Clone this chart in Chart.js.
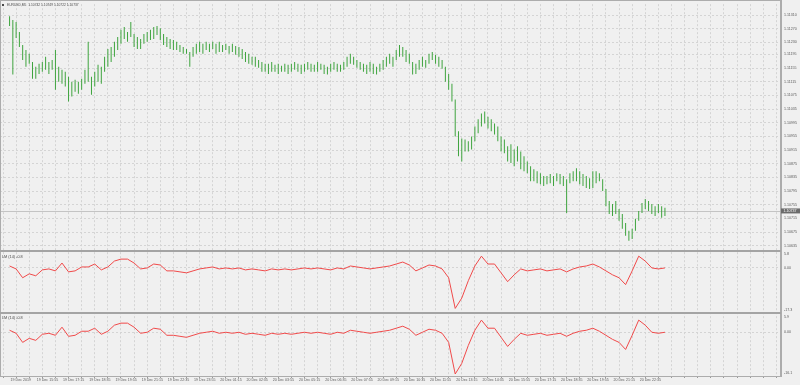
<!DOCTYPE html>
<html><head><meta charset="utf-8">
<script src="https://cdn.jsdelivr.net/npm/chart.js@4.4.1/dist/chart.umd.min.js"></script>
<style>html,body{margin:0;padding:0;background:#f0f0f0;}canvas{display:block;}</style>
</head><body>
<canvas id="c" width="800" height="385"></canvas>
<script>
// ---------- data ----------
const symbolTitle = "EURUSD,M5";
const quoteTexts = ["1.10742", "1.10749", "1.10722", "1.10737"];
const lastClose = 1.10737;
const lmTitle1 = "LM (14) -0.8";
const lmTitle2 = "LM (14) -0.8";

const timeLabels = ["19 Dec 2019","19 Dec 15:55","19 Dec 17:15","19 Dec 18:35","19 Dec 19:55","19 Dec 21:15","19 Dec 22:35","19 Dec 23:55","20 Dec 01:15","20 Dec 02:35","20 Dec 03:55","20 Dec 05:15","20 Dec 06:35","20 Dec 07:55","20 Dec 09:15","20 Dec 10:35","20 Dec 11:55","20 Dec 13:15","20 Dec 14:35","20 Dec 15:55","20 Dec 17:15","20 Dec 18:35","20 Dec 19:55","20 Dec 21:15","20 Dec 22:35"];

const priceTicks = [1.11310,1.11270,1.11230,1.11195,1.11155,1.11115,1.11075,1.11035,1.10995,1.10955,1.10915,1.10875,1.10835,1.10795,1.10755,1.10715,1.10675,1.10635];

// bar highs / lows in 1e-5 price units (points)
const barHighPts = [
111307,111296,111290,111261,111223,111208,111197,111173,111159,111168,
111173,111188,111173,111179,111208,111159,111150,111144,111130,111115,
111121,111115,111124,111150,111232,111130,111144,111165,111159,111188,
111211,111217,111232,111246,111267,111275,111261,111290,111255,111246,
111240,111255,111261,111267,111275,111278,111272,111255,111246,111240,
111237,111232,111223,111217,111211,111202,111217,111226,111232,111226,
111232,111226,111232,111226,111232,111223,111226,111220,111226,111220,
111217,111211,111202,111197,111188,111188,111179,111173,111168,111168,
111173,111165,111168,111162,111168,111165,111168,111173,111168,111165,
111168,111173,111168,111165,111173,111168,111165,111159,111168,111173,
111168,111165,111173,111188,111197,111188,111179,111173,111168,111165,
111173,111168,111159,111168,111179,111188,111197,111188,111208,111223,
111217,111208,111197,111173,111168,111179,111188,111179,111197,111202,
111194,111188,111179,111159,111138,111109,111063,110970,110949,110946,
110941,110955,110984,111005,111022,111028,111013,111005,110993,110984,
110955,110946,110926,110932,110917,110926,110911,110897,110882,110868,
110859,110853,110847,110839,110839,110845,110839,110847,110845,110839,
110830,110847,110853,110862,110853,110845,110839,110833,110853,110853,
110847,110830,110801,110766,110757,110766,110743,110728,110702,110679,
110685,110714,110737,110760,110772,110766,110757,110751,110757,110751,
110746];
const barLowPts = [
111278,111136,111243,111217,111179,111159,111168,111124,111124,111138,
111144,111150,111138,111150,111092,111115,111109,111101,111057,111072,
111086,111080,111092,111109,111115,111077,111101,111115,111109,111144,
111159,111173,111188,111208,111226,111240,111232,111246,111217,111211,
111211,111226,111232,111237,111240,111252,111237,111223,111217,111211,
111208,111208,111202,111197,111197,111159,111188,111197,111202,111197,
111208,111202,111211,111197,111202,111202,111208,111197,111202,111194,
111188,111182,111173,111168,111165,111159,111156,111144,111144,111138,
111144,111144,111138,111144,111144,111138,111144,111150,111144,111138,
111144,111150,111144,111144,111144,111150,111138,111136,111144,111150,
111144,111144,111150,111159,111168,111165,111156,111150,111144,111138,
111144,111138,111136,111144,111150,111159,111168,111159,111179,111188,
111188,111173,111168,111136,111138,111150,111159,111156,111168,111179,
111168,111159,111153,111115,111092,111057,110955,110897,110882,110911,
110911,110917,110941,110964,110984,110993,110978,110970,110961,110941,
110911,110906,110882,110877,110868,110882,110859,110853,110847,110824,
110824,110818,110815,110810,110815,110818,110810,110824,110815,110810,
110731,110818,110824,110824,110815,110810,110804,110801,110804,110818,
110824,110795,110751,110728,110722,110728,110708,110685,110664,110650,
110655,110679,110708,110731,110743,110737,110728,110722,110731,110717,
110722];

// LM indicator, one value for every second bar
const lmValues = [
0.8,-0.4,-4.0,-2.4,-3.2,-0.8,-0.4,-1.2,2.0,-1.6,
-1.2,0.4,0.4,1.6,-0.8,0.4,2.8,3.6,3.6,2.0,
-0.4,0,1.6,1.2,-1.2,-1.2,-1.6,-2.0,-1.2,-0.4,
0,0.4,-0.4,0,-0.4,0,-0.8,-0.4,-0.8,-1.2,
-0.4,-0.8,-0.4,-0.8,-0.4,0,-0.4,0,-0.4,-0.8,
0,-0.4,0.8,0.4,0,-0.4,0,0.4,0.8,1.6,
2.4,1.2,-1.2,0,1.2,0.8,-0.4,-4.0,-16.5,-12.3,
-5.2,0.8,4.8,1.6,1.6,-2.0,-5.6,-2.8,-0.4,-1.2,
-0.8,-0.4,-1.2,-0.8,-0.4,-1.6,-0.4,0.4,0.8,1.6,
0.4,-1.2,-2.8,-4.0,-6.8,-1.2,4.8,2.8,0,-0.4,
0];

const pane1TickValues = [5.8, 0, -17.3];
const pane1TickLabels = ["5.8", "0.00", "-17.3"];
const pane2TickValues = [5.9, 0, -16.1];
const pane2TickLabels = ["5.9", "0.00", "-16.1"];

// ---------- build ----------
const BARS_PER_GRID = 4, BARS_PER_LABEL = 8;
const xGridTicks = [];
for (let v = 0; v <= 232; v += BARS_PER_GRID) xGridTicks.push(v);

const barData = barHighPts.map((h, i) => ({x: i, y: [barLowPts[i] / 1e5, h / 1e5]}));
const lmData = lmValues.map((v, j) => ({x: 2 * j, y: v}));

const FONT = '"Liberation Sans", Arial, sans-serif';
const TXT = '#5a5a5a';
const GRID = '#d4d4d4';
const FRAME = '#acacac';

function paneAxis(weight, min, max, values, labels) {
  return {
    type: 'linear', position: 'right', stack: 'panes', stackWeight: weight,
    min: min, max: max, offset: false,
    afterBuildTicks: s => { s.ticks = values.map(v => ({value: v})); },
    afterFit: s => { s.width = 20; },
    grid: {
      color: c => (c.tick && c.tick.value === 0) ? GRID : 'rgba(0,0,0,0)',
      tickColor: c => (c.tick && c.tick.value === 0) ? '#9a9a9a' : 'rgba(0,0,0,0)',
      tickLength: 2, tickBorderDash: [], lineWidth: 1
    },
    border: {display: false, dash: [2, 2]},
    ticks: {
      autoSkip: false, padding: 2, color: TXT, font: {family: FONT, size: 3.6},
      callback: (v) => { const k = values.indexOf(v); return k >= 0 ? labels[k] : ''; }
    }
  };
}

const mtPlugin = {
  id: 'mtFrame',
  beforeDraw(chart) {
    const ctx = chart.ctx;
    ctx.save();
    ctx.fillStyle = '#f0f0f0';
    ctx.fillRect(0, 0, chart.width, chart.height);
    ctx.restore();
  },
  beforeDatasetsDraw(chart) {
    const ctx = chart.ctx, a = chart.chartArea;
    const y = Math.round(chart.scales.y.getPixelForValue(lastClose)) + 0.5;
    ctx.save();
    ctx.strokeStyle = '#c4c4c4'; ctx.lineWidth = 1;
    ctx.beginPath(); ctx.moveTo(a.left, y); ctx.lineTo(a.right, y); ctx.stroke();
    ctx.restore();
  },
  afterDraw(chart) {
    const ctx = chart.ctx, a = chart.chartArea;
    const s = chart.scales;
    ctx.save();
    ctx.fillStyle = FRAME;
    ctx.fillRect(0, 0, a.right + 2, 1);
    ctx.fillRect(0, 0, 1, a.bottom + 1);
    ctx.fillRect(a.right, 0, 2, a.bottom + 1);
    ctx.fillRect(0, a.bottom, a.right + 2, 1);
    ctx.fillStyle = '#a4a4a4';
    ctx.fillRect(0, Math.round(s.y.bottom) - 1, a.right + 1, 2);
    ctx.fillRect(0, Math.round(s.y2.bottom) - 1, a.right + 1, 2);
    const yp = s.y.getPixelForValue(lastClose);
    ctx.fillStyle = '#6c6c6c';
    ctx.fillRect(a.right + 1, yp - 2.5, chart.width - a.right - 1, 5);
    ctx.fillStyle = '#ffffff';
    ctx.font = '3.6px ' + FONT;
    ctx.textBaseline = 'middle'; ctx.textAlign = 'left';
    ctx.fillText(lastClose.toFixed(5), a.right + 3.5, yp);
    ctx.fillStyle = '#4a4a4a';
    ctx.fillRect(2, 4, 2, 2);
    ctx.font = '3.3px ' + FONT;
    ctx.fillText(symbolTitle + '  ' + quoteTexts.join(' '), 7, 5);
    ctx.font = '3.8px ' + FONT;
    ctx.fillText(lmTitle1, 2, Math.round(s.y2.top) + 6);
    ctx.fillText(lmTitle2, 2, Math.round(s.y3.top) + 5);
    ctx.restore();
  }
};

new Chart(document.getElementById('c'), {
  data: {
    datasets: [
      {type: 'bar', data: barData, xAxisID: 'x', yAxisID: 'y', backgroundColor: '#3ea43e',
       borderWidth: 0, barThickness: 1, maxBarThickness: 1, inflateAmount: 0},
      {type: 'line', data: lmData, xAxisID: 'x', yAxisID: 'y2', borderColor: '#f04a4a',
       borderWidth: 1, pointRadius: 0, tension: 0, fill: false},
      {type: 'line', data: lmData, xAxisID: 'x', yAxisID: 'y3', borderColor: '#f04a4a',
       borderWidth: 1, pointRadius: 0, tension: 0, fill: false}
    ]
  },
  options: {
    responsive: false, animation: false, events: [],
    layout: {padding: {top: 2, left: 0, right: 0, bottom: 0}},
    plugins: {legend: {display: false}, tooltip: {enabled: false}},
    scales: {
      x: {
        type: 'linear', position: 'bottom', min: -0.9, max: 233.1,
        afterBuildTicks: s => { s.ticks = xGridTicks.map(v => ({value: v})); },
        afterFit: s => { s.height = 9; },
        grid: {color: GRID, tickColor: '#9a9a9a', tickLength: 2, tickBorderDash: [], lineWidth: 1},
        border: {display: false, dash: [2, 2]},
        ticks: {
          autoSkip: false, maxRotation: 0, minRotation: 0, align: 'start', labelOffset: 1, padding: 0,
          color: TXT, font: {family: FONT, size: 3.6},
          callback: (v) => (v % BARS_PER_LABEL === 0 && v / BARS_PER_LABEL < timeLabels.length) ? timeLabels[v / BARS_PER_LABEL] : ''
        }
      },
      y: {
        type: 'linear', position: 'right', stack: 'panes', stackWeight: 248,
        min: 1.106205, max: 1.113422, offset: false,
        afterBuildTicks: s => { s.ticks = priceTicks.map(v => ({value: v})); },
        afterFit: s => { s.width = 20; },
        grid: {color: GRID, tickColor: '#9a9a9a', tickLength: 2, tickBorderDash: [], lineWidth: 1},
        border: {display: false, dash: [2, 2]},
        ticks: {autoSkip: false, padding: 2, color: TXT, font: {family: FONT, size: 3.6},
                callback: v => Number(v).toFixed(5)}
      },
      y2: paneAxis(63, -18.52, 7.02, pane1TickValues, pane1TickLabels),
      y3: paneAxis(63, -17.29, 7.47, pane2TickValues, pane2TickLabels)
    }
  },
  plugins: [mtPlugin]
});
</script>
</body></html>
